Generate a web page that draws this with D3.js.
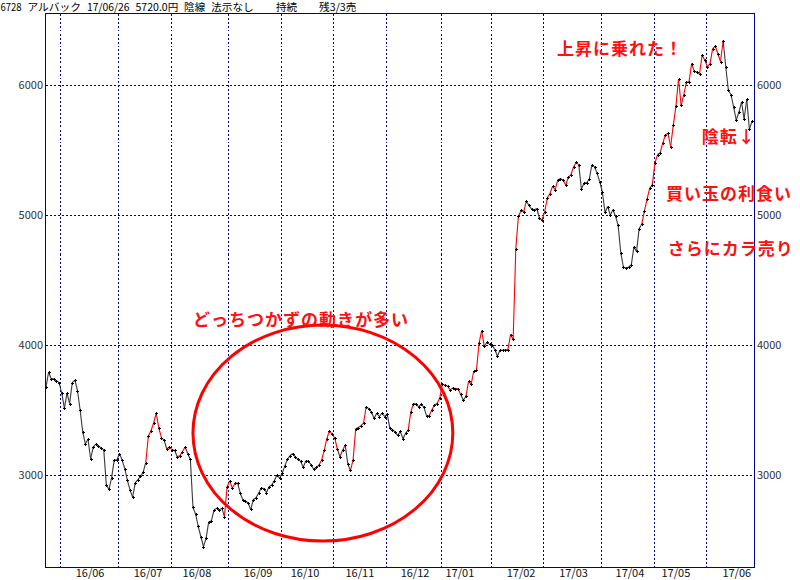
<!DOCTYPE html>
<html><head><meta charset="utf-8">
<script src="https://cdn.jsdelivr.net/npm/d3@7"></script>
<style>
html,body{margin:0;padding:0;background:#fff;}
svg{display:block;}
text{font-family:"Noto Sans CJK JP","Noto Sans CJK SC","DejaVu Sans",sans-serif;}
</style></head><body>
<svg id="c" width="800" height="580"></svg>
<script>
// ---- data ----
const headerText = "6728 アルバック 17/06/26 5720.0円 陰線 法示なし    持続    残3/3売";
const closes = [
  // 2016/05
  3680,3790,3740,3740,3725,3710,
  // 2016/06
  3630,3515,3630,3550,3710,3730,3650,3500,3330,3240,3275,3125,3215,3240,3225,3205,3195,2920,2890,2980,3115,3115,
  // 2016/07
  3165,3115,3050,2960,2885,2830,2940,2965,2990,3020,3095,3300,3340,3400,3475,3360,3285,3270,3200,3215,
  // 2016/08
  3195,3190,3140,3150,3180,3215,3165,3120,2750,2700,2605,2525,2450,2515,2640,2645,2730,2745,2730,2745,2680,2910,
  // 2016/09
  2955,2900,2935,2940,2860,2810,2800,2785,2735,2810,2825,2860,2900,2895,2865,2910,2925,2955,3000,2975,
  // 2016/10
  3015,3070,3120,3150,3165,3140,3120,3105,3060,3110,3105,3080,3045,3060,3075,3115,3190,3280,3340,3315,
  // 2016/11
  3285,3200,3140,3190,3230,3085,3035,3115,3355,3365,3380,3400,3525,3510,3485,3435,3475,3450,3475,3450,
  // 2016/12
  3470,3360,3350,3330,3305,3335,3280,3320,3345,3485,3550,3545,3525,3545,3520,3455,3455,3500,3540,3550,3590,
  // 2017/01
  3700,3690,3685,3655,3670,3665,3665,3620,3575,3605,3720,3700,3800,3805,4015,4110,3990,4020,4005,
  // 2017/02
  4000,3965,3915,3960,3960,3962,3965,4080,4045,4740,4990,5035,5025,5105,5075,5045,5040,5050,4975,4962,
  // 2017/03
  5025,5130,5165,5220,5195,5270,5280,5270,5230,5290,5310,5370,5405,5385,5200,5245,5250,5275,5385,5370,5320,5255,
  // 2017/04
  5175,5020,5065,5000,5040,4990,4920,4710,4600,4590,4600,4615,4755,4720,4895,4930,5030,5120,5205,5230,
  // 2017/05
  5400,5465,5480,5555,5615,5630,5525,5690,5835,6045,5845,5925,6020,6025,6165,6105,6100,6085,6230,6190,
  // 2017/06
  6140,6165,6280,6300,6240,6180,6340,6140,5960,5925,5830,5730,5790,5870,5740,5890,5660,5720
];
const monthLabels   = ["16/06","16/07","16/08","16/09","16/10","16/11","16/12","17/01","17/02","17/03","17/04","17/05","17/06"];
const monthStartIdx = [6,28,48,70,90,110,130,151,170,190,212,232,252];
const monthMidIdx   = [16.8,38.9,57.5,80.8,98.7,119.6,140.6,157.7,181,201,222.5,240,263.2];
const yTicks = [3000,4000,5000,6000];
// bullish-state runs (segment from i to i+1 drawn red for start<=i<end)
const redRuns = [[38,44],[46,49],[50,53],[68,73],[104,111],[112,114],[116,122],[138,140],[146,158],[160,168],[176,183],[189,203],[227,258]];
const notes = [
  {t:"上昇に乗れた！", i:194.7, v:6277},
  {t:"陰転↓", i:249.9, v:5600},
  {t:"買い玉の利食い", i:236.2, v:5165},
  {t:"さらにカラ売り", i:236.9, v:4740},
  {t:"どっちつかずの動きが多い", i:56, v:4196}
];
const ellipseNote = {i:105.5, v:3323, ri:49.5, rv:831};

// ---- layout ----
const svg = d3.select("#c");
const L = 45.5, R = 754.5, T = 13.5, B = 567.5;
const x = d3.scaleLinear().domain([0, closes.length-1]).range([46, 752]);
const y = d3.scaleLinear().domain([3000, 6000]).range([475, 85]);
const NAVY = "#00008b";

// header
(function(){
  const unit = 5.4;
  let u = 0;
  const tokens = headerText.split(/( +)/);
  const g = svg.append("g");
  tokens.forEach(tok => {
    let w = 0;
    for (const ch of tok) w += (ch.charCodeAt(0) < 0x2000) ? 1 : 2;
    if (tok.trim().length) {
      g.append("text").attr("x", u*unit + 0.5).attr("y", 11)
        .attr("font-size", 10.5).attr("fill", "#000")
        .attr("textLength", w*unit - 0.5).attr("lengthAdjust", "spacingAndGlyphs")
        .text(tok);
    }
    u += w;
  });
})();

// grid
const grid = svg.append("g").attr("stroke", NAVY).attr("stroke-width", 1)
  .attr("stroke-dasharray", "2,2").attr("shape-rendering", "crispEdges");
monthStartIdx.forEach(m => {
  const gx = Math.round(x(m - 0.5)) + 0.5;
  grid.append("line").attr("x1", gx).attr("x2", gx).attr("y1", T).attr("y2", B);
});
yTicks.forEach(t => {
  const gy = Math.round(y(t)) + 0.5;
  grid.append("line").attr("x1", L).attr("x2", R).attr("y1", gy).attr("y2", gy);
});

// frame
svg.append("rect").attr("x", L).attr("y", T).attr("width", R-L).attr("height", B-T)
  .attr("fill", "none").attr("stroke", NAVY).attr("stroke-width", 1).attr("shape-rendering", "crispEdges");

// y labels
yTicks.forEach(t => {
  svg.append("text").attr("x", 43).attr("y", y(t)).attr("dy", "0.36em")
    .attr("text-anchor", "end").attr("font-size", 11).attr("fill", "#333").text(t);
  svg.append("text").attr("x", 757).attr("y", y(t)).attr("dy", "0.36em")
    .attr("text-anchor", "start").attr("font-size", 11).attr("fill", "#333").text(t);
});

// month labels
monthLabels.forEach((lab, k) => {
  svg.append("text").attr("x", x(monthMidIdx[k])).attr("y", 577)
    .attr("text-anchor", "middle").attr("font-size", 11).attr("fill", "#111").text(lab);
});

// series segments
const isRed = i => redRuns.some(r => i >= r[0] && i < r[1]);
const lineGen = d3.line().x(d => x(d[0])).y(d => y(d[1]));
const segG = svg.append("g").attr("fill", "none").attr("stroke-width", 1.1);
for (let i = 0; i < closes.length - 1; i++) {
  segG.append("path")
    .attr("d", lineGen([[i, closes[i]], [i+1, closes[i+1]]]))
    .attr("stroke", isRed(i) ? "#ff0000" : "#3a3a3a");
}

// markers
const mk = svg.append("g").attr("fill", "#000").attr("shape-rendering", "crispEdges");
closes.forEach((v, i) => {
  const px = Math.round(x(i)), py = Math.round(y(v));
  mk.append("rect").attr("x", px-1).attr("y", py).attr("width", 3).attr("height", 1);
  mk.append("rect").attr("x", px).attr("y", py-1).attr("width", 1).attr("height", 3);
});

// ellipse annotation
svg.append("ellipse")
  .attr("cx", x(ellipseNote.i)).attr("cy", y(ellipseNote.v))
  .attr("rx", x(ellipseNote.i + ellipseNote.ri) - x(ellipseNote.i))
  .attr("ry", y(ellipseNote.v - ellipseNote.rv) - y(ellipseNote.v))
  .attr("fill", "none").attr("stroke", "#ff0000").attr("stroke-width", 3);

// text annotations
notes.forEach(n => {
  svg.append("text").attr("x", x(n.i)).attr("y", y(n.v)).attr("dy", "0.36em")
    .attr("font-size", 17).attr("font-weight", "bold").attr("letter-spacing", 1)
    .attr("fill", "#ff1010").text(n.t);
});
</script>
</body></html>
